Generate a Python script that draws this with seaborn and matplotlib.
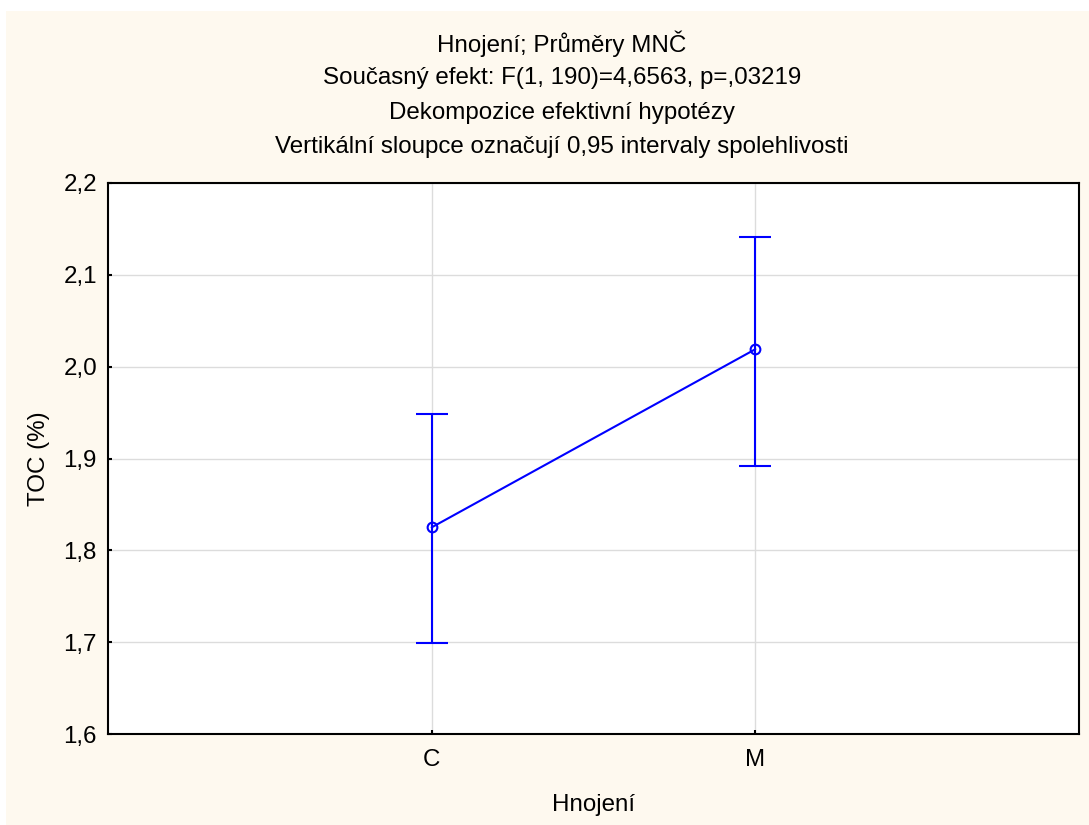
import matplotlib as mpl
mpl.use('Agg')
import matplotlib.pyplot as plt
from matplotlib.patches import Rectangle
import seaborn as sns
import numpy as np

# data
categories = ['C', 'M']
means = [1.825, 2.019]
ci_low = [1.699, 1.892]
ci_high = [1.949, 2.141]
y_ticks = [1.6, 1.7, 1.8, 1.9, 2.0, 2.1, 2.2]
y_tick_labels = ['1,6', '1,7', '1,8', '1,9', '2,0', '2,1', '2,2']
title_lines = ['Hnojení; Průměry MNČ',
               'Současný efekt: F(1, 190)=4,6563, p=,03219',
               'Dekompozice efektivní hypotézy',
               'Vertikální sloupce označují 0,95 intervaly spolehlivosti']

sns.set_style('whitegrid')
plt.rcParams['font.family'] = ['Liberation Sans', 'DejaVu Sans']
plt.rcParams['text.color'] = 'black'
plt.rcParams['axes.labelcolor'] = 'black'

fs = 17.4
cream = '#fef9ef'
fig = plt.figure(figsize=(10.89, 8.25), dpi=100)
fig.patch.set_facecolor('white')
fig.patches.append(Rectangle((6 / 1089, 0), 1 - 6 / 1089, 1 - 11 / 825,
                             transform=fig.transFigure, facecolor=cream,
                             edgecolor='none', zorder=-10))

ax = fig.add_axes([108 / 1089, 1 - 734 / 825, (1079 - 108) / 1089, (734 - 183) / 825])
ax.set_facecolor('white')

sns.pointplot(x=categories, y=means, color='blue', markers='o',
              linewidth=1.5, markersize=7, markerfacecolor='none',
              markeredgewidth=1.5, errorbar=None, ax=ax)

m = np.array(means)
yerr = [m - np.array(ci_low), np.array(ci_high) - m]
ax.errorbar(x=np.arange(len(categories)), y=m, yerr=yerr, fmt='none',
            ecolor='blue', elinewidth=1.5, capsize=11.5, capthick=1.5)

ax.set_xlim(-1, 2)
ax.set_ylim(1.6, 2.2)
ax.set_yticks(y_ticks)
ax.set_yticklabels(y_tick_labels)
ax.grid(True, color='#dcdcdc', linewidth=1)
ax.set_axisbelow(True)
for s in ax.spines.values():
    s.set_color('black')
    s.set_linewidth(1.5)
ax.tick_params(direction='in', length=3, width=1.5, colors='black',
               labelsize=fs, left=True, bottom=True)
ax.tick_params(axis='y', pad=8)
ax.tick_params(axis='x', pad=11)

ax.set_xlabel('Hnojení', fontsize=fs, labelpad=16)
ax.set_ylabel('TOC (%)', fontsize=fs, labelpad=9.5)

for i, line in enumerate(title_lines):
    fig.text(562 / 1089, 1 - (44 + 34.3 * i) / 825, line, ha='center',
             va='center', fontsize=fs)

plt.savefig('out.png', dpi=100, facecolor=fig.get_facecolor())
plt.close()
